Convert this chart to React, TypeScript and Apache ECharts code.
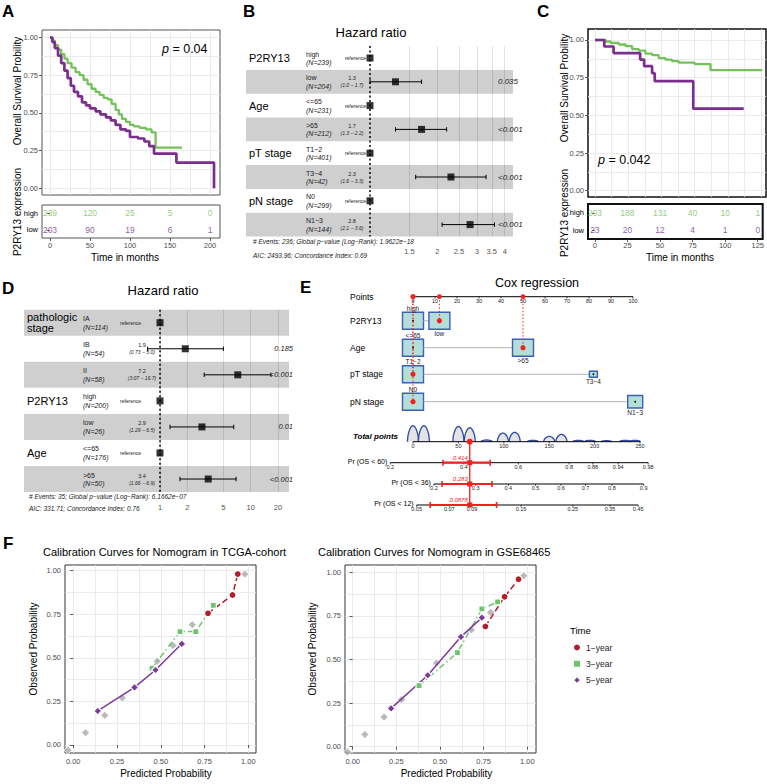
import React, { useEffect, useRef } from 'react';
import * as echarts from 'echarts';

const FONT = '"Liberation Sans", Arial, Helvetica, sans-serif';

// ---------------- Panel A: TCGA survival by P2RY13 ----------------
const kmAHigh = [[0,1],[3,0.98],[6,0.95],[10,0.92],[14,0.89],[18,0.86],[22,0.83],[27,0.8],[32,0.77],[37,0.75],[42,0.72],[47,0.69],[52,0.66],[57,0.64],[62,0.62],[67,0.6],[72,0.59],[77,0.56],[82,0.52],[86,0.49],[90,0.46],[95,0.44],[100,0.42],[105,0.41],[112,0.4],[120,0.39],[127,0.37],[132,0.27],[165,0.27]];
const kmALow = [[0,1],[3,0.97],[6,0.93],[10,0.88],[14,0.83],[18,0.78],[22,0.73],[26,0.68],[30,0.64],[35,0.61],[40,0.57],[45,0.55],[50,0.53],[57,0.51],[63,0.49],[70,0.47],[76,0.45],[82,0.42],[88,0.39],[95,0.38],[100,0.34],[110,0.33],[118,0.31],[124,0.28],[130,0.23],[158,0.17],[205,0]];
const riskTimesA = [0, 50, 100, 150, 200];
const riskAHigh = [239, 120, 25, 5, 0];
const riskALow = [203, 90, 19, 6, 1];
const pValueA = '0.04';

// ---------------- Panel C: GEO survival by P2RY13 ----------------
const kmCHigh = [[0,1],[8,0.99],[12,0.98],[18,0.97],[23,0.96],[28,0.94],[33,0.93],[38,0.91],[43,0.9],[48,0.88],[53,0.87],[58,0.86],[63,0.85],[75,0.84],[87,0.8],[126,0.8]];
const kmCLow = [[0,1],[7,0.957],[14,0.913],[34,0.87],[37,0.826],[43,0.78],[45,0.727],[74,0.545],[112,0.545]];
const riskTimesC = [0, 25, 50, 75, 100, 125];
const riskCHigh = [203, 188, 131, 40, 10, 1];
const riskCLow = [23, 20, 12, 4, 1, 0];
const pValueC = '0.042';

// ---------------- Panel B: forest plot (TCGA) ----------------
const forestBVarNames = ['P2RY13', 'Age', 'pT stage', 'pN stage'];
const forestBVarRow = [0, 2, 4, 6];
const forestBLevels = ['high', 'low', '<=65', '>65', 'T1\u22122', 'T3\u22124', 'N0', 'N1\u22123'];
const forestBN = [239, 204, 231, 212, 401, 42, 299, 144];
const forestBHR = [1, 1.3, 1, 1.7, 1, 2.3, 1, 2.8];
const forestBLo = [NaN, 1.0, NaN, 1.3, NaN, 1.6, NaN, 2.1];
const forestBHi = [NaN, 1.7, NaN, 2.2, NaN, 3.3, NaN, 3.6];
const forestBCI = ['', '(1.0 \u2212 1.7)', '', '(1.3 \u2212 2.2)', '', '(1.6 \u2212 3.3)', '', '(2.1 \u2212 3.6)'];
const forestBP = ['', '0.035', '', '<0.001', '', '<0.001', '', '<0.001'];
const forestBTicks = [1.5, 2, 2.5, 3, 3.5, 4];
const forestBFooter = ['# Events: 236; Global p\u2212value (Log\u2212Rank): 1.9622e\u221218', 'AIC: 2493.96; Concordance Index: 0.69'];

// ---------------- Panel D: forest plot (GEO) ----------------
const forestDVarNames = [['pathologic', 'stage'], ['P2RY13'], ['Age']];
const forestDVarRow = [0, 3, 5];
const forestDLevels = ['IA', 'IB', 'II', 'high', 'low', '<=65', '>65'];
const forestDN = [114, 54, 58, 200, 26, 176, 50];
const forestDHR = [1, 1.9, 7.2, 1, 2.9, 1, 3.4];
const forestDLo = [NaN, 0.73, 3.07, NaN, 1.29, NaN, 1.66];
const forestDHi = [NaN, 5.0, 16.7, NaN, 6.5, NaN, 6.9];
const forestDCI = ['', '(0.73 \u2212 5.0)', '(3.07 \u2212 16.7)', '', '(1.29 \u2212 6.5)', '', '(1.66 \u2212 6.9)'];
const forestDP = ['', '0.185', '<0.001', '', '0.01', '', '<0.001'];
const forestDTicks = [1, 2, 5, 10, 20];
const forestDFooter = ['# Events: 35; Global p\u2212value (Log\u2212Rank): 6.1662e\u221207', 'AIC: 331.71; Concordance Index: 0.76'];

// ---------------- Panel E: nomogram ----------------
const nomoVars = ['P2RY13', 'Age', 'pT stage', 'pN stage'];
const nomoLevels = [['high', 'low'], ['<=65', '>65'], ['T1\u22122', 'T3\u22124'], ['N0', 'N1\u22123']];
const nomoPoints = [[0, 12], [0, 50], [0, 82], [0, 101]];
const nomoSelected = [1, 1, 0, 0];
const pointsTicks = [0, 10, 20, 30, 40, 50, 60, 70, 80, 90, 100];
const totalTicks = [0, 50, 100, 150, 200, 250];
const totalDensity = [[0,0.94],[12,0.94],[50,0.9],[62.5,0.82],[81,0.1],[99,0.51],[112,0.55],[132,0.08],[150,0.31],[163.5,0.43],[182,0.08],[195,0.08],[213,0.06],[233.5,0.08],[244.5,0.08]];
const prNames = ['Pr (OS < 60)', 'Pr (OS < 36)', 'Pr (OS < 12)'];
const prTickLabels = [
  ['0.2', '0.4', '0.6', '0.8', '0.88', '0.94', '0.98'],
  ['0.2', '0.3', '0.4', '0.5', '0.6', '0.7', '0.8', '0.9'],
  ['0.05', '0.07', '0.09', '0.15', '0.25', '0.35', '0.45'],
];
const prTickAt = [
  [-25, 56, 116, 172, 198, 226, 259],
  [23, 69, 105, 135, 163, 190, 219, 254],
  [4, 40, 65, 119, 176, 217, 248],
];
const totalScore = 62.5;
const predLabels = ['0.414', '0.283', '0.0878'];
const predLo = [33, 32, 19];
const predHi = [85, 87, 92];

// ---------------- Panel F: calibration ----------------
const calTcgaRef = [[-0.03,-0.03],[0.07,0.07],[0.18,0.17],[0.28,0.27],[0.48,0.48],[0.57,0.57],[0.68,0.69],[0.98,0.98]];
const calTcga1y = [[0.77,0.755],[0.91,0.86],[0.94,0.98]];
const calTcga3y = [[0.45,0.44],[0.61,0.65],[0.70,0.65],[0.80,0.80]];
const calTcga5y = [[0.14,0.195],[0.35,0.33],[0.47,0.43],[0.62,0.58]];
const calGseRef = [[-0.03,-0.03],[0.07,0.07],[0.18,0.17],[0.28,0.27],[0.48,0.48],[0.68,0.67],[0.79,0.77],[0.98,0.98]];
const calGse1y = [[0.76,0.69],[0.87,0.86],[0.95,0.96]];
const calGse3y = [[0.38,0.35],[0.60,0.54],[0.74,0.79],[0.83,0.83]];
const calGse5y = [[0.22,0.22],[0.43,0.41],[0.62,0.63],[0.74,0.74]];
const timeNames = ['1\u2212year', '3\u2212year', '5\u2212year'];

// ---------------- colours / layout ----------------
const KM_GREEN = '#74C25A';
const KM_PURPLE = '#7A2E8E';
const CAL_RED = '#B21E2B';
const CAL_GREEN = '#6CC56C';
const CAL_PURPLE = '#7D3A9C';
const CAL_GRAY = '#A8A8A8';
const NOMO_RED = '#F2201E';

const GA = { left: 42, top: 30, width: 178, height: 165 };
const GAR = { left: 42, top: 205, width: 178, height: 33 };
const GC = { left: 588, top: 29, width: 178, height: 168 };
const GCR = { left: 588, top: 204, width: 178, height: 35 };
const GB = { left: 246, top: 46.1, width: 267, rowH: 23.8, ref: 370, scale: 97.2 };
const GD = { left: 24, top: 309.7, width: 265, rowH: 26.05, ref: 160, scale: 39.4 };
const GE = { left: 380, top: 285, width: 275, height: 230 };
const GF1 = { left: 65, top: 565, width: 191, height: 188 };
const GF2 = { left: 345, top: 565, width: 191, height: 188 };
const NY = { points: 1.17, vars: [3.58, 6.27, 8.93, 11.67], total: 15.67, pr: [17.77, 19.9, 22.0] };
const E_YMAX = 23;
const nomoBoxW = [[21, 21], [21, 21], [21, 8], [21, 15]];
const nomoBoxH = [[17, 17], [17, 17], [17, 6], [17, 12.5]];

const rng = (a, b, s) => { const o = []; for (let v = a; v <= b + 1e-9; v += s) o.push(Math.round(v * 1e6) / 1e6); return o; };
const eY = (v) => GE.top + (v * GE.height) / E_YMAX;

function txt(x, y, text, o: any = {}) {
  return {
    type: 'text', x, y, rotation: o.rot || 0, silent: true, z: 100,
    style: {
      text, fontSize: o.size || 8, fontFamily: FONT, fill: o.color || '#000',
      align: o.align || 'left', verticalAlign: o.va || 'middle',
      fontStyle: o.italic ? 'italic' : 'normal', fontWeight: o.bold ? 'bold' : 'normal',
      rich: o.rich,
    },
  };
}

const box = (g, color, w) => ({ left: g.left, top: g.top, width: g.width, height: g.height, show: true, borderColor: color, borderWidth: w, backgroundColor: '#fff' });

const gridAxis = (gridIndex, min, max, values, position) => ({
  type: 'value', gridIndex, min, max, position,
  axisLine: { show: false },
  axisTick: { show: false, customValues: values },
  axisLabel: { show: false },
  splitLine: { show: true, lineStyle: { color: '#E6E6E6', width: 0.8 } },
});
const labelAxis = (gridIndex, min, max, values, fmt, position, margin = 4) => ({
  type: 'value', gridIndex, min, max, position,
  axisLine: { show: false },
  axisTick: { show: true, customValues: values, length: 3, lineStyle: { color: '#333', width: 0.8 } },
  axisLabel: { show: true, customValues: values, formatter: fmt, fontSize: 7.5, color: '#4D4D4D', margin, fontFamily: FONT },
  splitLine: { show: false },
});
const fmt2 = (v) => Number(v).toFixed(2);

function forestAxes(gridIndex, g, ticks, nRows) {
  const lt = ticks.map((t) => Math.log(t));
  const x = {
    type: 'value', gridIndex,
    min: (g.left - g.ref) / g.scale, max: (g.left + g.width - g.ref) / g.scale,
    axisLine: { show: false },
    axisTick: { show: false, customValues: lt },
    axisLabel: { customValues: lt, formatter: (v) => String(Number(Math.exp(v).toPrecision(4))), fontSize: 7.5, color: '#555', margin: 11, fontFamily: FONT },
    splitLine: { show: true, lineStyle: { color: '#DADADA', width: 0.8 } },
  };
  const y = { type: 'value', gridIndex, min: -0.5, max: nRows - 0.5, inverse: true, show: false };
  return [x, y];
}

function forestSeries(xi, yi, hr, lo, hi) {
  const bandRows = hr.map((_, i) => i).filter((i) => (xi === 2 ? i % 2 === 1 : i % 2 === 0));
  const ciData = [];
  hr.forEach((_, i) => { if (!isNaN(lo[i])) ciData.push([Math.log(lo[i]), i, Math.log(hi[i])]); });
  return [
    {
      type: 'custom', xAxisIndex: xi, yAxisIndex: yi, z: 1, silent: true,
      data: bandRows.map((r) => [0, r]),
      renderItem: (params, api) => {
        const cs = params.coordSys;
        const a = api.coord([0, api.value(1) - 0.5]);
        const b = api.coord([0, api.value(1) + 0.5]);
        return { type: 'rect', shape: { x: cs.x, y: Math.min(a[1], b[1]), width: cs.width, height: Math.abs(b[1] - a[1]) }, style: { fill: 'rgba(0,0,0,0.19)' } };
      },
    },
    {
      type: 'custom', xAxisIndex: xi, yAxisIndex: yi, z: 3, silent: true,
      data: ciData,
      renderItem: (params, api) => {
        const p1 = api.coord([api.value(0), api.value(1)]);
        const p2 = api.coord([api.value(2), api.value(1)]);
        const st = { stroke: '#000', lineWidth: 1 };
        return {
          type: 'group', children: [
            { type: 'line', shape: { x1: p1[0], y1: p1[1], x2: p2[0], y2: p2[1] }, style: st },
            { type: 'line', shape: { x1: p1[0], y1: p1[1] - 2.2, x2: p1[0], y2: p1[1] + 2.2 }, style: st },
            { type: 'line', shape: { x1: p2[0], y1: p2[1] - 2.2, x2: p2[0], y2: p2[1] + 2.2 }, style: st },
          ],
        };
      },
    },
    {
      type: 'scatter', xAxisIndex: xi, yAxisIndex: yi, z: 4, silent: true,
      data: hr.map((h, i) => [Math.log(h), i]),
      symbol: 'rect', symbolSize: 7, itemStyle: { color: '#000' },
      markLine: {
        silent: true, symbol: ['none', 'none'], label: { show: false },
        lineStyle: { color: '#000', type: [2, 2.5], width: 1.5 },
        data: [{ xAxis: 0 }],
      },
    },
  ];
}

function forestTexts(g, vars, varRow, levels, n, hr, ci, p, o) {
  const out = [];
  const rowY = (i) => g.top + (i + 0.5) * g.rowH;
  vars.forEach((lines, k) => {
    const y0 = rowY(varRow[k]);
    const arr = Array.isArray(lines) ? lines : [lines];
    arr.forEach((ln, j) => out.push(txt(o.varX, y0 + (j - (arr.length - 1) / 2) * 11.5, ln, { size: 11 })));
  });
  levels.forEach((lv, i) => {
    const y = rowY(i);
    out.push(txt(o.lvX, y - 4, lv, { size: 7, color: '#222' }));
    out.push(txt(o.lvX, y + 4.5, '(N=' + n[i] + ')', { size: 7, italic: true, color: '#222' }));
    if (hr[i] === 1) {
      out.push(txt(o.refX, y, 'reference', { size: 5, align: o.refAlign, color: '#222' }));
    } else {
      out.push(txt(o.hrX, y - 3.5, String(hr[i]), { size: 5.5, align: 'center', color: '#222' }));
      out.push(txt(o.hrX, y + 3.5, ci[i], { size: 5, align: 'center', italic: true, color: '#222' }));
    }
    if (p[i]) out.push(txt(o.pX, y, p[i], { size: o.pSize, align: o.pAlign, italic: true, color: '#222' }));
  });
  return out;
}

function nomoTickSeries(xi, row, positions, labels, name) {
  return {
    type: 'custom', xAxisIndex: xi, yAxisIndex: 8, z: 3, silent: true,
    data: positions.map((pp, i) => [pp, row, i]),
    renderItem: (params, api) => {
      const c = api.coord([api.value(0), api.value(1)]);
      const i = api.value(2);
      const ch: any[] = [
        { type: 'line', shape: { x1: c[0], y1: c[1], x2: c[0], y2: c[1] + 1.8 }, style: { stroke: '#000', lineWidth: 0.7 } },
        { type: 'text', x: c[0], y: c[1] + 0.8, style: { text: labels[i], fontSize: 5.5, fontFamily: FONT, fill: '#222', align: 'center', verticalAlign: 'top' } },
      ];
      if (name && i === 0) {
        ch.push({ type: 'text', x: c[0] - 3, y: c[1] - 1.5, style: { text: name, fontSize: 7, fontFamily: FONT, fill: '#000', align: 'right', verticalAlign: 'middle' } });
      }
      return { type: 'group', children: ch };
    },
  };
}
function nomoAxisLine(xi, row, positions) {
  return {
    type: 'line', xAxisIndex: xi, yAxisIndex: 8, silent: true, z: 2, symbol: 'none',
    data: [[positions[0], row], [positions[positions.length - 1], row]],
    lineStyle: { color: '#000', width: 1 },
  };
}

function calSeries(name, data, color, symbol, size, dash, xi, yi) {
  return {
    type: 'line', name, data, xAxisIndex: xi, yAxisIndex: yi, symbol, symbolSize: size, showSymbol: true,
    lineStyle: { color, width: 1.5, type: dash }, itemStyle: { color, borderColor: '#fff', borderWidth: 1.2 }, z: 3,
  };
}

function buildOption() {
  const forestBAx = forestAxes(2, GB, forestBTicks, 8);
  const forestDAx = forestAxes(5, GD, forestDTicks, 7);
  const r125 = rng(0, 1, 0.125);
  const maj = [0, 0.25, 0.5, 0.75, 1];

  const xAxis = [
    gridAxis(0, -10, 212.5, rng(0, 200, 25), 'bottom'),
    labelAxis(1, -10, 212.5, riskTimesA, (v) => String(v), 'bottom', 3),
    forestBAx[0],
    gridAxis(3, -5.27, 128.8, rng(0, 125, 12.5), 'bottom'),
    labelAxis(4, -5.27, 128.8, riskTimesC, (v) => String(v), 'bottom', 2),
    forestDAx[0],
    { type: 'value', gridIndex: 6, min: -15, max: 110, show: false },
    { type: 'value', gridIndex: 6, min: -36.34, max: 266.5, show: false },
    gridAxis(7, -0.047, 1.044, r125, 'bottom'),
    labelAxis(7, -0.047, 1.044, maj, fmt2, 'bottom'),
    gridAxis(8, -0.044, 1.05, r125, 'bottom'),
    labelAxis(8, -0.044, 1.05, maj, fmt2, 'bottom'),
  ];
  const riskY = (gi) => ({
    type: 'category', gridIndex: gi, data: ['low', 'high'],
    axisLine: { show: false },
    axisTick: { show: true, alignWithLabel: true, length: 3, lineStyle: { color: '#333', width: 0.8 } },
    axisLabel: { fontSize: 7.5, color: '#000', margin: 4, fontFamily: FONT },
    splitLine: { show: false },
  });
  const yAxis = [
    gridAxis(0, -0.045, 1.05, r125, 'left'),
    labelAxis(0, -0.045, 1.05, maj, fmt2, 'left'),
    riskY(1),
    forestBAx[1],
    gridAxis(3, -0.042, 1.073, r125, 'left'),
    labelAxis(3, -0.042, 1.073, maj, fmt2, 'left'),
    riskY(4),
    forestDAx[1],
    { type: 'value', gridIndex: 6, min: 0, max: E_YMAX, inverse: true, show: false },
    gridAxis(7, -0.046, 1.032, r125, 'left'),
    labelAxis(7, -0.046, 1.032, maj, fmt2, 'left'),
    gridAxis(8, -0.036, 1.042, r125, 'left'),
    labelAxis(8, -0.036, 1.042, maj, fmt2, 'left'),
  ];

  const km = (name, data, color, xi, yi, w) => ({ type: 'line', name, data, xAxisIndex: xi, yAxisIndex: yi, step: 'end', symbol: 'none', silent: true, lineStyle: { color, width: w }, itemStyle: { color }, z: 3 });
  const risk = (times, counts, row, color, xi, yi) => ({
    type: 'scatter', xAxisIndex: xi, yAxisIndex: yi, silent: true,
    data: times.map((t, i) => [t, row, counts[i]]),
    symbolSize: 1, itemStyle: { color: 'rgba(0,0,0,0)' },
    label: { show: true, position: 'inside', formatter: (p) => String(p.value[2]), color, fontSize: 8.5, fontFamily: FONT },
    z: 5,
  });

  // nomogram series
  const nomoData = [];
  nomoVars.forEach((_, v) => [0, 1].forEach((l) => nomoData.push([nomoPoints[v][l], NY.vars[v], v, l])));
  const nomoRows = {
    type: 'custom', xAxisIndex: 6, yAxisIndex: 8, z: 4, silent: true, data: nomoData,
    renderItem: (params, api) => {
      const v = api.value(2), l = api.value(3);
      const c = api.coord([api.value(0), api.value(1)]);
      const w = nomoBoxW[v][l], h = nomoBoxH[v][l];
      const ch: any[] = [];
      if (l === 1) {
        const c0 = api.coord([nomoPoints[v][0], api.value(1)]);
        ch.push({ type: 'line', shape: { x1: c0[0] + nomoBoxW[v][0] / 2, y1: c[1], x2: c[0] - w / 2, y2: c[1] }, style: { stroke: '#B3B3B3', lineWidth: 1 } });
      }
      ch.push({ type: 'rect', shape: { x: c[0] - w / 2, y: c[1] - h / 2, width: w, height: h }, style: { fill: '#B4DED8', stroke: '#3D5FB5', lineWidth: 1.4 } });
      if (nomoSelected[v] === l) {
        const top = api.coord([api.value(0), NY.points]);
        ch.push({ type: 'line', shape: { x1: c[0], y1: top[1], x2: c[0], y2: c[1] }, style: { stroke: NOMO_RED, lineWidth: 1, lineDash: [1.5, 2] } });
        ch.push({ type: 'circle', shape: { cx: c[0], cy: c[1], r: 2.6 }, style: { fill: NOMO_RED } });
        ch.push({ type: 'circle', shape: { cx: top[0], cy: top[1], r: 2.4 }, style: { fill: NOMO_RED } });
      } else {
        ch.push({ type: 'circle', shape: { cx: c[0], cy: c[1], r: 0.9 }, style: { fill: '#000' } });
      }
      ch.push({ type: 'text', x: c[0], y: l === 0 ? c[1] - h / 2 - 0.5 : c[1] + h / 2 + 0.8, style: { text: nomoLevels[v][l], fontSize: 6.5, fontFamily: FONT, fill: '#222', align: 'center', verticalAlign: l === 0 ? 'bottom' : 'top' } });
      return { type: 'group', children: ch };
    },
  };
  const humps = {
    type: 'custom', xAxisIndex: 7, yAxisIndex: 8, z: 1, silent: true,
    data: totalDensity,
    renderItem: (params, api) => {
      const cc = api.value(0), d = api.value(1);
      const l = api.coord([cc - 6.2, NY.total]);
      const r = api.coord([cc + 6.2, NY.total]);
      const hh = d * 17;
      const pts = [];
      for (let k = 0; k <= 20; k++) {
        const t = k / 20;
        pts.push([l[0] + (r[0] - l[0]) * t, l[1] - hh * Math.pow(Math.sin(Math.PI * t), 0.55)]);
      }
      return {
        type: 'group', children: [
          { type: 'polygon', shape: { points: pts }, style: { fill: '#E4E4E4' } },
          { type: 'polyline', shape: { points: pts }, style: { stroke: '#2D49A8', lineWidth: 1.3, fill: 'none' } },
        ],
      };
    },
  };
  const pred = {
    type: 'custom', xAxisIndex: 7, yAxisIndex: 8, z: 6, silent: true,
    data: [[totalScore, NY.total]],
    renderItem: (params, api) => {
      const s = api.value(0);
      const top = api.coord([s, NY.total]);
      const bot = api.coord([s, NY.pr[2]]);
      const ch: any[] = [{ type: 'line', shape: { x1: top[0], y1: top[1], x2: bot[0], y2: bot[1] }, style: { stroke: NOMO_RED, lineWidth: 1.3 } }];
      for (let k = 0; k < 3; k++) {
        const lo = api.coord([predLo[k], NY.pr[k]]);
        const hi = api.coord([predHi[k], NY.pr[k]]);
        const m = api.coord([s, NY.pr[k]]);
        const st = { stroke: NOMO_RED, lineWidth: 2.2 };
        ch.push({ type: 'line', shape: { x1: lo[0], y1: lo[1], x2: hi[0], y2: hi[1] }, style: st });
        ch.push({ type: 'line', shape: { x1: lo[0], y1: lo[1] - 3, x2: lo[0], y2: lo[1] + 3 }, style: { stroke: NOMO_RED, lineWidth: 1.6 } });
        ch.push({ type: 'line', shape: { x1: hi[0], y1: hi[1] - 3, x2: hi[0], y2: hi[1] + 3 }, style: { stroke: NOMO_RED, lineWidth: 1.6 } });
        ch.push({ type: 'rect', shape: { x: m[0] - 2.5, y: m[1] - 2.5, width: 5, height: 5 }, style: { fill: NOMO_RED } });
        ch.push({ type: 'text', x: m[0] - 2, y: m[1] - 1.8, style: { text: predLabels[k], fontSize: 6, fontFamily: FONT, fontStyle: 'italic', fill: NOMO_RED, align: 'right', verticalAlign: 'bottom' } });
      }
      ch.push({ type: 'circle', shape: { cx: top[0], cy: top[1], r: 3 }, style: { fill: NOMO_RED } });
      return { type: 'group', children: ch };
    },
  };

  const series: any[] = [
    km('A high', kmAHigh, KM_GREEN, 0, 0, 2.3),
    km('A low', kmALow, KM_PURPLE, 0, 0, 2.7),
    risk(riskTimesA, riskAHigh, 'high', KM_GREEN, 1, 2),
    risk(riskTimesA, riskALow, 'low', KM_PURPLE, 1, 2),
    ...forestSeries(2, 3, forestBHR, forestBLo, forestBHi),
    km('C high', kmCHigh, KM_GREEN, 3, 4, 2.3),
    km('C low', kmCLow, KM_PURPLE, 3, 4, 2.7),
    risk(riskTimesC, riskCHigh, 'high', KM_GREEN, 4, 6),
    risk(riskTimesC, riskCLow, 'low', KM_PURPLE, 4, 6),
    ...forestSeries(5, 7, forestDHR, forestDLo, forestDHi),
    nomoAxisLine(6, NY.points, pointsTicks),
    nomoTickSeries(6, NY.points, pointsTicks, pointsTicks.map(String), null),
    nomoRows,
    humps,
    nomoAxisLine(7, NY.total, totalTicks),
    nomoTickSeries(7, NY.total, totalTicks, totalTicks.map(String), null),
    ...[0, 1, 2].map((k) => nomoAxisLine(7, NY.pr[k], prTickAt[k])),
    ...[0, 1, 2].map((k) => nomoTickSeries(7, NY.pr[k], prTickAt[k], prTickLabels[k], prNames[k])),
    pred,
    { type: 'scatter', name: 'ideal', xAxisIndex: 8, yAxisIndex: 9, data: calTcgaRef, symbol: 'diamond', symbolSize: 8, itemStyle: { color: CAL_GRAY, borderColor: '#fff', borderWidth: 1 }, z: 2, silent: true },
    calSeries(timeNames[0], calTcga1y, CAL_RED, 'circle', 7, [6, 3], 8, 9),
    calSeries(timeNames[1], calTcga3y, CAL_GREEN, 'rect', 6, [6, 3, 1.5, 3], 8, 9),
    calSeries(timeNames[2], calTcga5y, CAL_PURPLE, 'diamond', 8, 'solid', 8, 9),
    { type: 'scatter', name: 'ideal', xAxisIndex: 10, yAxisIndex: 11, data: calGseRef, symbol: 'diamond', symbolSize: 8, itemStyle: { color: CAL_GRAY, borderColor: '#fff', borderWidth: 1 }, z: 2, silent: true },
    calSeries(timeNames[0], calGse1y, CAL_RED, 'circle', 7, [6, 3], 10, 11),
    calSeries(timeNames[1], calGse3y, CAL_GREEN, 'rect', 6, [6, 3, 1.5, 3], 10, 11),
    calSeries(timeNames[2], calGse5y, CAL_PURPLE, 'diamond', 8, 'solid', 10, 11),
  ];

  const pRich = { i: { fontStyle: 'italic', fontSize: 12.5, fontFamily: FONT } };
  const rot = Math.PI / 2;
  const texts: any[] = [
    txt(2, 11.5, 'A', { size: 17, bold: true }),
    txt(243, 11.5, 'B', { size: 17, bold: true }),
    txt(537, 11.5, 'C', { size: 17, bold: true }),
    txt(2, 288.5, 'D', { size: 17, bold: true }),
    txt(300, 287, 'E', { size: 17, bold: true }),
    txt(3, 543.5, 'F', { size: 17, bold: true }),
    // A
    txt(162, 49, '{i|p} = ' + pValueA, { size: 12.5, rich: pRich }),
    txt(17, 91, 'Overall Survival Probility', { size: 10, align: 'center', rot }),
    txt(17, 212, 'P2RY13 expression', { size: 10, align: 'center', rot }),
    txt(125, 257, 'Time in months', { size: 10, align: 'center' }),
    // C
    txt(598, 160, '{i|p} = ' + pValueC, { size: 12.5, rich: pRich }),
    txt(564, 88, 'Overall Survival Probility', { size: 10, align: 'center', rot }),
    txt(564, 213, 'P2RY13 expression', { size: 10, align: 'center', rot }),
    txt(680, 257, 'Time in months', { size: 10, align: 'center' }),
    // B
    txt(371, 32, 'Hazard ratio', { size: 13, align: 'center' }),
    txt(253, 241, forestBFooter[0], { size: 6.5, italic: true, color: '#222' }),
    txt(253, 255, forestBFooter[1], { size: 6.5, italic: true, color: '#222' }),
    ...forestTexts(GB, forestBVarNames, forestBVarRow, forestBLevels, forestBN, forestBHR, forestBCI, forestBP,
      { varX: 249, lvX: 306, refX: 366, refAlign: 'right', hrX: 352, pX: 498, pAlign: 'left', pSize: 8 }),
    // D
    txt(163, 290, 'Hazard ratio', { size: 13, align: 'center' }),
    txt(29, 496, forestDFooter[0], { size: 6.5, italic: true, color: '#222' }),
    txt(29, 508, forestDFooter[1], { size: 6.5, italic: true, color: '#222' }),
    ...forestTexts(GD, forestDVarNames, forestDVarRow, forestDLevels, forestDN, forestDHR, forestDCI, forestDP,
      { varX: 27, lvX: 83, refX: 120, refAlign: 'left', hrX: 142, pX: 293, pAlign: 'right', pSize: 7.5 }),
    // E
    txt(537, 283, 'Cox regression', { size: 12.5, align: 'center' }),
    txt(350, eY(NY.points), 'Points', { size: 8.5 }),
    ...nomoVars.map((nm, v) => txt(350, eY(NY.vars[v]), nm, { size: 8.5 })),
    txt(398, eY(NY.total) - 5, 'Total points', { size: 8, bold: true, italic: true, align: 'right' }),
    // F
    txt(43, 552, 'Calibration Curves for Nomogram in TCGA-cohort', { size: 11 }),
    txt(318, 552, 'Calibration Curves for Nomogram in GSE68465', { size: 11 }),
    txt(33, 649, 'Observed Probability', { size: 10, align: 'center', rot }),
    txt(312, 649, 'Observed Probability', { size: 10, align: 'center', rot }),
    txt(166, 773, 'Predicted Probability', { size: 10, align: 'center' }),
    txt(446.5, 773, 'Predicted Probability', { size: 10, align: 'center' }),
    txt(570, 630, 'Time', { size: 9.5 }),
  ];

  return {
    animation: false,
    backgroundColor: '#fff',
    textStyle: { fontFamily: FONT },
    grid: [
      box(GA, '#555', 1),
      box(GAR, '#555', 1),
      { left: GB.left, top: GB.top, width: GB.width, height: 8 * GB.rowH },
      box(GC, '#111', 1.5),
      box(GCR, '#111', 2),
      { left: GD.left, top: GD.top, width: GD.width, height: 7 * GD.rowH },
      { left: GE.left, top: GE.top, width: GE.width, height: GE.height },
      box(GF1, '#333', 1),
      box(GF2, '#333', 1),
    ],
    xAxis,
    yAxis,
    legend: {
      data: [
        { name: timeNames[0], icon: 'circle' },
        { name: timeNames[1], icon: 'rect' },
        { name: timeNames[2], icon: 'diamond' },
      ],
      orient: 'vertical', left: 572, top: 642.5, padding: 0,
      itemWidth: 8, itemHeight: 8, itemGap: 6.3, selectedMode: false,
      textStyle: { fontSize: 8.5, fontFamily: FONT, color: '#222' },
    },
    series,
    graphic: texts,
  };
}

export default function App() {
  const ref = useRef<HTMLDivElement | null>(null);
  useEffect(() => {
    document.body.style.margin = '0';
    document.body.style.overflow = 'hidden';
    const chart = echarts.init(ref.current, null, { renderer: 'svg' });
    chart.setOption(buildOption() as any);
    return () => chart.dispose();
  }, []);
  return <div ref={ref} style={{ width: 767, height: 784, background: '#fff' }} />;
}
